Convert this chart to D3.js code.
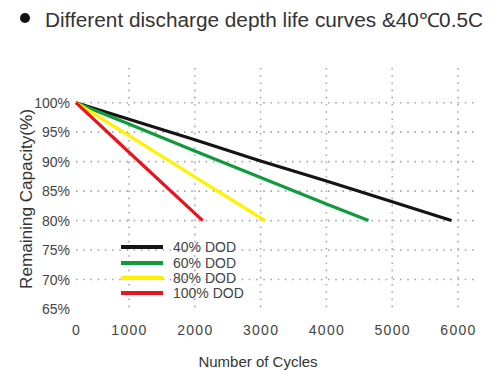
<!DOCTYPE html>
<html>
<head>
<meta charset="utf-8">
<script src="https://cdn.jsdelivr.net/npm/d3@7/dist/d3.min.js"></script>
<style>
  body { margin: 0; background: #fff; }
  text { font-family: "Liberation Sans", Arial, sans-serif; }
</style>
</head>
<body>
<svg id="chart" width="500" height="375"></svg>
<script>
// ---- data ----
const titleText = "Different discharge depth life curves &40\u21030.5C";
const xTicks = [0, 1000, 2000, 3000, 4000, 5000, 6000];
const yTicks = [65, 70, 75, 80, 85, 90, 95, 100];
const yGrid = [70, 75, 80, 85, 90, 95, 100];
const xGrid = [1000, 2000, 3000, 4000, 5000, 6000];

const dod40  = [[0, 100], [1000, 97.2], [2000, 93.7], [3000, 90.1], [4000, 86.7], [5000, 83.2], [5900, 80]];
const dod60  = [[0, 100], [1000, 96.4], [2000, 91.8], [3000, 87.3], [4000, 82.8], [4640, 80]];
const dod80  = [[0, 100], [1000, 94.4], [2000, 87.4], [3070, 80]];
const dod100 = [[0, 100], [1000, 91.6], [2120, 80]];

const seriesNames = ["40% DOD", "60% DOD", "80% DOD", "100% DOD"];
const seriesData = [dod40, dod60, dod80, dod100];
const seriesColors = ["#141414", "#109a3c", "#fff200", "#e8141e"];

// ---- drawing ----
const svg = d3.select("#chart");
const x = d3.scaleLinear().domain([0, 1000, 6000]).range([76, 129, 458]);
const y = d3.scaleLinear().domain([65, 100]).range([309, 102.7]);

// title
svg.append("circle").attr("cx", 25).attr("cy", 18).attr("r", 5).attr("fill", "#111");
svg.append("text").attr("x", 45).attr("y", 27)
  .attr("font-size", 19.5).attr("fill", "#333")
  .attr("textLength", 438).attr("lengthAdjust", "spacingAndGlyphs")
  .text(titleText);

// grid
const grid = svg.append("g").attr("stroke", "#a8a8a8").attr("stroke-width", 1.6)
  .attr("stroke-dasharray", "1.6,5.6").attr("fill", "none");
grid.selectAll("line.h").data(yGrid).join("line").attr("class", "h")
  .attr("x1", 76).attr("x2", 474)
  .attr("y1", d => y(d)).attr("y2", d => y(d));
grid.selectAll("line.v").data(xGrid).join("line").attr("class", "v")
  .attr("x1", d => x(d)).attr("x2", d => x(d))
  .attr("y1", 68).attr("y2", 310);

// y axis
const yAxis = svg.append("g").attr("transform", "translate(70,0)")
  .call(d3.axisLeft(y).tickValues(yTicks).tickSize(0).tickPadding(0).tickFormat(d => d + "%"));
yAxis.select(".domain").remove();
yAxis.selectAll("text").attr("font-size", 14).attr("fill", "#444")
  .attr("font-family", "Liberation Sans, Arial, sans-serif");

// x axis
const xAxis = svg.append("g").attr("transform", "translate(0,325)")
  .call(d3.axisBottom(x).tickValues(xTicks).tickSize(0).tickPadding(0).tickFormat(d3.format("d")));
xAxis.select(".domain").remove();
xAxis.selectAll("text").attr("font-size", 14).attr("fill", "#444")
  .attr("letter-spacing", 1.3)
  .attr("font-family", "Liberation Sans, Arial, sans-serif");

// axis titles
svg.append("text").attr("x", 258).attr("y", 367).attr("text-anchor", "middle")
  .attr("font-size", 15).attr("fill", "#333")
  .text("Number of Cycles");
svg.append("text").attr("transform", "translate(32,199) rotate(-90)")
  .attr("text-anchor", "middle").attr("font-size", 16).attr("fill", "#333")
  .attr("textLength", 180).attr("lengthAdjust", "spacingAndGlyphs")
  .text("Remaining Capacity(%)");

// curves
const line = d3.line().x(d => x(d[0])).y(d => y(d[1]));
svg.append("g").selectAll("path").data(seriesData).join("path")
  .attr("d", line).attr("fill", "none")
  .attr("stroke", (d, i) => seriesColors[i]).attr("stroke-width", 3.2)
  .attr("stroke-linejoin", "round");

// legend
const legendY = [247, 263, 278, 293];
const lg = svg.append("g");
seriesNames.forEach((name, i) => {
  lg.append("line").attr("x1", 121).attr("x2", 163)
    .attr("y1", legendY[i]).attr("y2", legendY[i])
    .attr("stroke", seriesColors[i]).attr("stroke-width", 4);
  lg.append("text").attr("x", 173).attr("y", legendY[i] + 5)
    .attr("font-size", 14).attr("fill", "#444").text(name);
});
</script>
</body>
</html>
